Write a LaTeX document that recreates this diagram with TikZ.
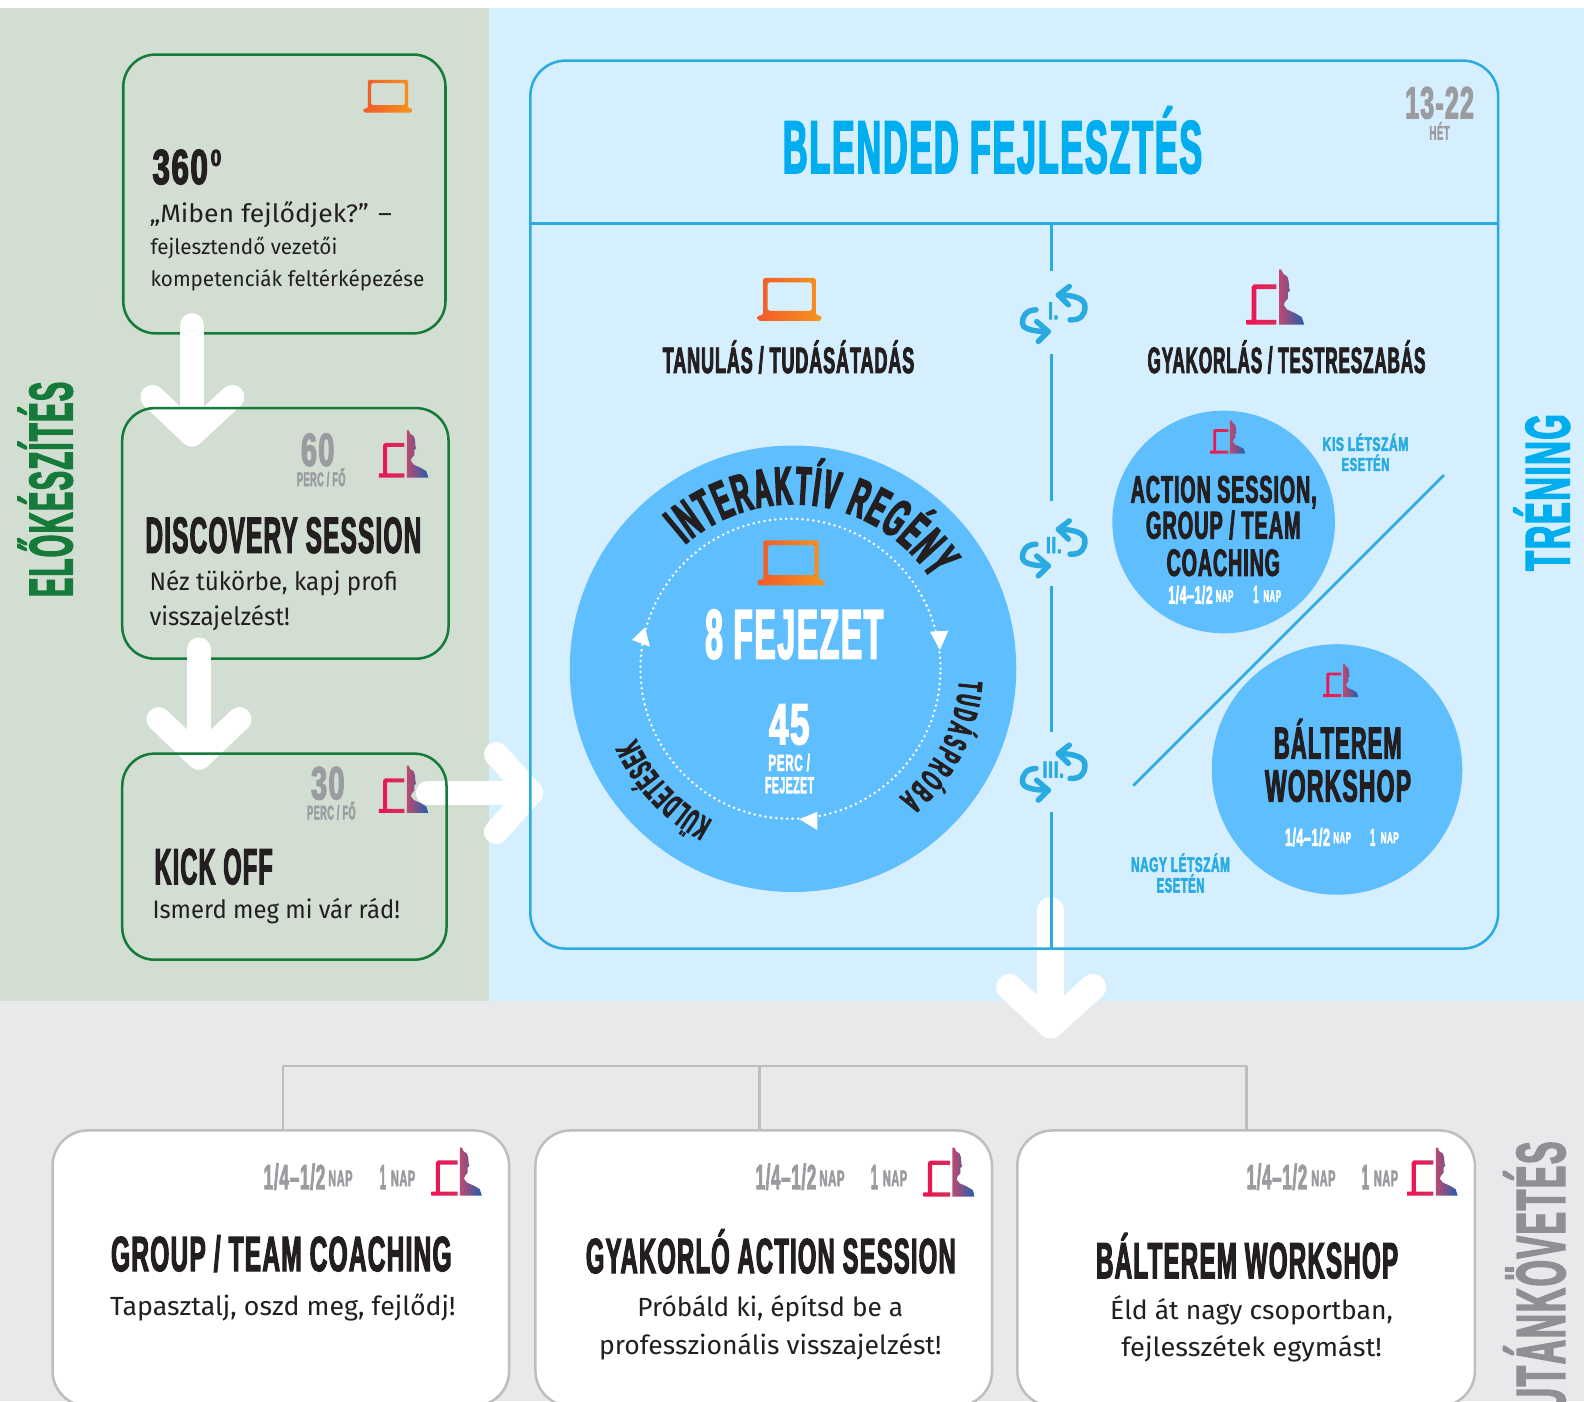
\documentclass[tikz,border=0pt]{standalone}
\usepackage{fontspec}
\usepackage{graphicx}
\usetikzlibrary{decorations.text,calc}
\setmainfont{Fira Sans}
\newfontfamily\condfam[FakeStretch=0.6,LetterSpace=3,BoldFeatures={FakeBold=2.5}]{Liberation Sans}
\newcommand\cond{\condfam\bfseries}
\newfontfamily\arcfam[FakeStretch=0.46,BoldFeatures={FakeBold=3}]{Liberation Sans}
\definecolor{dark}{HTML}{231F20}
\definecolor{greenbg}{HTML}{D1DED1}
\definecolor{bluebg}{HTML}{D6EFFE}
\definecolor{graybg}{HTML}{E8E9EB}
\definecolor{gline}{HTML}{157A3A}
\definecolor{bline}{HTML}{29ABE2}
\definecolor{grayline}{HTML}{BCBEC0}
\definecolor{soft}{HTML}{9A9CA0}
\definecolor{vgray}{HTML}{8E9093}
\definecolor{circ}{HTML}{5FBEFD}
\definecolor{title}{HTML}{00AEEF}
\definecolor{lapA}{HTML}{F15A29}
\definecolor{lapB}{HTML}{F7941E}
\definecolor{climA}{HTML}{EC1450}
\definecolor{climB}{HTML}{D82C5C}
\definecolor{perA}{HTML}{BC4A70}
\definecolor{perB}{HTML}{A64E7E}
\definecolor{perC}{HTML}{1F5FAF}
\newcounter{lbl}
\tikzset{
  txt/.style={inner sep=0pt,outer sep=0pt},
  gbox/.style={draw=gline,line width=2.5pt,rounded corners=32pt,inner sep=0pt,outer sep=0pt},
  wbox/.style={draw=grayline,fill=white,line width=2.5pt,rounded corners=35pt,inner sep=0pt,outer sep=0pt},
  framebox/.style={draw=bline,line width=2.5pt,rounded corners=35pt,inner sep=0pt,outer sep=0pt},
  disc/.style={circle,fill=circ,inner sep=0pt,outer sep=0pt},
  wharrow/.style={draw=white,line cap=round,line join=round,line width=24pt},
  treeline/.style={draw=grayline,line width=2.5pt},
  divider/.style={draw=bline,line width=2.5pt},
  loopline/.style={draw=bline,line width=5.4pt,line cap=round,line join=round},
}
% condensed title: x1 x2 captop baseline colour text
\newcommand\ct[6]{\stepcounter{lbl}\pgfmathsetmacro\wv{#2-#1}\pgfmathsetmacro\hv{(#4-#3)/0.716}\pgfmathsetmacro\yv{#4-0.8}%
  \node[txt,anchor=base west,text=#5] (t\thelbl) at (#1,\yv) {\resizebox{\wv pt}{\height}{\cond\fontsize{\hv}{\hv}\selectfont #6}};}
% vertical title: capleft baseline ybottom ytop colour text
\newcommand\ctv[6]{\stepcounter{lbl}\pgfmathsetmacro\wv{#3-#4}\pgfmathsetmacro\hv{(#2-#1)/0.716}%
  \node[txt,anchor=base west,text=#5,rotate=90] (t\thelbl) at (#2,#3) {\resizebox{\wv pt}{\height}{\cond\fontsize{\hv}{\hv}\selectfont #6}};}
% body text: x1 x2 baseline size text
\newcommand\bt[5]{\stepcounter{lbl}\pgfmathsetmacro\wv{#2-#1}%
  \node[txt,anchor=base west,text=dark] (t\thelbl) at (#1,#3) {\resizebox{\wv pt}{\height}{\fontsize{#4}{#4}\selectfont #5}};}
\newcommand\laptopicon[3]{\pgfmathsetmacro\rc{#3*0.03}%
  \begin{scope}[shift={(#1,#2)},x=#3pt,y=-#3pt]
  \shade[even odd rule,left color=lapA,right color=lapB,rounded corners=\rc pt]
   (0,.675) -- (1,.675) -- (1,.59) -- (.915,.59) -- (.915,0) -- (.085,0) -- (.085,.59) -- (0,.59) -- cycle
   (.155,.07) -- (.85,.07) -- (.85,.52) -- (.155,.52) -- cycle;
  \end{scope}}
\newcommand\climicon[3]{%
  \begin{scope}[shift={(#1,#2)},x=#3pt,y=-#3pt]
  \shade[left color=climA,right color=climB]
   (0,.953) -- (.518,.953) -- (.518,.87) -- (.17,.87) -- (.17,.335) -- (.518,.335) -- (.518,.253) -- (.13,.253) -- (.088,.295) -- (.088,.87) -- (0,.87) -- cycle;
  \shade[left color=perA,middle color=perB,right color=perC]
   (.565,.953) -- (.565,0) -- (.606,0) -- (.635,.07) -- (.706,.118) -- (.729,.188) -- (.741,.324) -- (.753,.365) -- (.718,.394) -- (.718,.5) -- (.665,.559) -- (.647,.618) -- (.706,.694) -- (.841,.753) -- (.959,.824) -- (1,.953) -- cycle;
  \end{scope}}
\newcommand\loopicon[2]{\begin{scope}[shift={(#1,#2)}]
  \draw[loopline] (16.5,6.6) .. controls (27,7) and (31.3,2) .. (31.3,-6.6) .. controls (31.3,-14) and (22,-18) .. (5,-18);
  \draw[loopline] (15.8,-26.4) -- (5,-18) -- (14.9,-8.3);
  \draw[loopline] (-17.2,-3.3) .. controls (-27,-3) and (-30.7,3) .. (-30.7,9.9) .. controls (-30.7,15) and (-22,18.2) .. (-5,18.2);
  \draw[loopline] (-16.5,8.3) -- (-5,18.2) -- (-14.9,28);
  \end{scope}}
\begin{document}
\begin{tikzpicture}[x=1pt,y=-1pt]
\useasboundingbox (0,0) rectangle (1568,1387);
\clip (0,0) rectangle (1568,1387);
\fill[white] (0,0) rectangle (1568,8);
\fill[greenbg] (0,8) rectangle (484,991);
\fill[bluebg] (484,8) rectangle (1568,991);
\fill[graybg] (0,991) rectangle (1568,1387);

% vertical section titles
\ctv{28}{71.5}{591}{378}{gline}{ELŐKÉSZÍTÉS}
\ctv{1509}{1553.5}{565}{410}{title}{TRÉNING}
\ctv{1500}{1549}{1398}{1130}{vgray}{UTÁNKÖVETÉS}

% left column
\node[gbox,minimum width=319pt,minimum height=276pt] (b360) at (281.5,192) {};
\laptopicon{360}{79}{48}
\ct{151}{205.8}{148}{183}{dark}{360}
\ct{208.6}{219}{148.5}{165}{dark}{0}
\bt{148}{388}{220}{25}{„Miben fejlődjek?” –}
\bt{149}{334}{252}{21}{fejlesztendő vezetői}
\bt{149}{420}{284}{21}{kompetenciák feltérképezése}

\coordinate (a1s) at (190,322);
\coordinate (a1t) at (190,430);
\coordinate (a1l) at (151,393);
\coordinate (a1r) at (230,393);
\draw[wharrow] (a1s) -- (a1t);
\draw[wharrow] (a1l) -- (a1t) -- (a1r);

\node[gbox,minimum width=323pt,minimum height=248pt] (bdisc) at (282.5,528) {};
\ct{298}{331}{429}{462}{soft}{60}
\ct{294}{342}{468}{482}{soft}{PERC / FŐ}
\climicon{375}{426}{49}
\ct{144}{417}{512}{548}{dark}{DISCOVERY SESSION}
\bt{148}{394}{585}{25}{Néz tükörbe, kapj profi}
\bt{148}{287}{619}{25}{visszajelzést!}

\coordinate (a2s) at (197,643);
\coordinate (a2t) at (197,750);
\coordinate (a2l) at (157,712);
\coordinate (a2r) at (237,712);
\draw[wharrow] (a2s) -- (a2t);
\draw[wharrow] (a2l) -- (a2t) -- (a2r);

\ct{308}{341}{759}{792}{soft}{30}
\ct{304}{352}{798}{812}{soft}{PERC / FŐ}
\climicon{375}{758}{49}
\ct{153}{270}{840}{876}{dark}{KICK OFF}
\bt{151}{396}{909}{25}{Ismerd meg mi vár rád!}

\coordinate (a3s) at (423.7,784.7);
\coordinate (a3t) at (525.6,784.7);
\coordinate (a3l) at (491,746.5);
\coordinate (a3r) at (491,823.5);
\draw[wharrow] (a3s) -- (a3t);
\draw[wharrow] (a3l) -- (a3t) -- (a3r);
\node[gbox,minimum width=321pt,minimum height=204pt] (bkick) at (281.5,848) {};

% arrow to lower band
\coordinate (a4s) at (1040,901);
\coordinate (a4t) at (1040,1015);
\coordinate (a4l) at (999,977);
\coordinate (a4r) at (1082,977);
\draw[wharrow,line width=26pt] (a4s) -- (a4t);
\draw[wharrow,line width=26pt] (a4l) -- (a4t) -- (a4r);

% main frame
\node[framebox,minimum width=958pt,minimum height=879pt] (frame) at (1004,499.5) {};
\coordinate (hl) at (525,221);
\draw[divider] (hl) -- (hl -| frame.east);
\draw[divider] (1041,221) -- (1041,268);
\draw[divider] (1041,350) -- (1041,496);
\draw[divider] (1041,580) -- (1041,725);
\draw[divider] (1041,804) -- (1041,939);
\ct{775}{1190}{119}{172}{title}{BLENDED FEJLESZTÉS}
\ct{1391}{1459}{86}{118}{soft}{13-22}
\ct{1415}{1435}{125}{139}{soft}{HÉT}
\laptopicon{750}{275}{63}
\ct{656}{905}{344}{370}{dark}{TANULÁS / TUDÁSÁTADÁS}
\climicon{1234}{267}{57}
\ct{1136}{1411}{344}{370}{dark}{GYAKORLÁS / TESTRESZABÁS}

% loops
\loopicon{1042.7}{310}
\ct{1037.7}{1047.6}{299.6}{316.8}{bline}{I.}
\loopicon{1042.7}{542}
\ct{1035.4}{1051}{531.9}{548.3}{bline}{II.}
\loopicon{1042.7}{764}
\ct{1032.1}{1053.3}{754}{770.4}{bline}{III.}

% big circle
\node[disc,minimum size=442pt] (bigc) at (785,662) {};
\node[circle,draw=white,inner sep=0pt,outer sep=0pt,minimum size=297pt,line width=2.8pt,line cap=round,dash pattern=on 0pt off 5.4pt] (dots) at (782.5,662) {};
\fill[white] (930.5,643.5) -- (920.6,625.3) -- (938.8,624.3) -- cycle;
\fill[white] (791.3,811) -- (809.1,803.5) -- (809.1,821.6) -- cycle;
\fill[white] (638.5,621) -- (625.6,633.5) -- (643.4,640.2) -- cycle;
\begin{scope}[shift={(bigc.center)},x=1pt,y=1pt]
\path[decorate,decoration={text along path,text align={fit to path},
  text={|\arcfam\bfseries\fontsize{53}{53}\selectfont\color{dark}|INTERAKTÍV REGÉNY}}]
  (131:163) arc (131:33:163);
\path[decorate,decoration={text along path,text align={fit to path},
  text={|\arcfam\bfseries\fontsize{33}{33}\selectfont\color{dark}|TUDÁSPRÓBA}}]
  (-4:165) arc (-4:-50.5:165);
\path[decorate,decoration={text along path,text align={fit to path},
  text={|\arcfam\bfseries\fontsize{33}{33}\selectfont\color{dark}|KÜLDETÉSEK}}]
  (-118:170) arc (-118:-156:170);
\end{scope}
\laptopicon{750}{535}{66}
\ct{698}{874.4}{603}{652.7}{white}{8 FEJEZET}
\ct{761.3}{801.2}{696.3}{737.5}{white}{45}
\ct{760.6}{801.8}{747.4}{763.9}{white}{PERC /}
\ct{757.3}{805.8}{769.5}{786}{white}{FEJEZET}

% small circles
\node[disc,minimum size=220.4pt] (actc) at (1211.3,516.7) {};
\climicon{1198}{416}{34.6}
\ct{1119.3}{1303.4}{471.2}{498.3}{dark}{ACTION SESSION,}
\ct{1134.4}{1287.5}{506.5}{533.9}{dark}{GROUP / TEAM}
\ct{1154.9}{1267}{543.8}{570.8}{dark}{COACHING}
\ct{1156.5}{1200.4}{580.7}{598.2}{white}{1/4–1/2}
\ct{1203.4}{1220.9}{584.7}{596.6}{white}{NAP}
\ct{1240.7}{1245.6}{580}{597.5}{white}{1}
\ct{1250.6}{1268.1}{584.7}{596.6}{white}{NAP}
\ct{1309.3}{1394.1}{433.3}{447.1}{bline}{KIS LÉTSZÁM}
\ct{1328.1}{1375.3}{453.7}{466.9}{bline}{ESETÉN}
\coordinate (diagA) at (1429.4,470.2);
\coordinate (diagB) at (1121.9,777.7);
\draw[divider] (diagA) -- (diagB);
\node[disc,minimum size=248pt] (balc) at (1323.5,761.7) {};
\climicon{1310}{657}{34.6}
\ct{1261.1}{1387.5}{720}{751.7}{dark}{BÁLTEREM}
\ct{1252.2}{1396.8}{762.2}{794.2}{dark}{WORKSHOP}
\ct{1272}{1316.6}{820.6}{838.1}{white}{1/4–1/2}
\ct{1319.8}{1337.4}{824.3}{835.5}{white}{NAP}
\ct{1356.2}{1361.4}{820.6}{838.1}{white}{1}
\ct{1366.7}{1384.6}{824.3}{835.5}{white}{NAP}
\ct{1119.6}{1217.6}{849}{863.9}{bline}{NAGY LÉTSZÁM}
\ct{1145}{1192.2}{869.5}{884.3}{bline}{ESETÉN}

% lower band
\node[wbox,minimum width=452pt,minimum height=273pt] (g1) at (278,1255.5) {};
\node[wbox,minimum width=452pt,minimum height=273pt] (g2) at (756,1255.5) {};
\node[wbox,minimum width=453pt,minimum height=273pt] (g3) at (1233.5,1255.5) {};
\coordinate (tree1) at (280,1055);
\coordinate (tree2) at (752,1055);
\coordinate (tree3) at (1234,1055);
\draw[treeline] (tree1) -- (tree3);
\draw[treeline] (tree1) -- (tree1 |- g1.north);
\draw[treeline] (tree2) -- (tree2 |- g2.north);
\draw[treeline] (tree3) -- (tree3 |- g3.north);

\ct{261}{322}{1153}{1178}{soft}{1/4–1/2}
\ct{325}{349}{1159}{1175}{soft}{NAP}
\ct{376}{382}{1153}{1178}{soft}{1}
\ct{387}{411}{1159}{1175}{soft}{NAP}
\climicon{427}{1136}{50}
\ct{110}{447}{1224}{1259}{dark}{GROUP / TEAM COACHING}
\bt{109}{451}{1302}{26}{Tapasztalj, oszd meg, fejlődj!}

\ct{748}{808}{1153}{1178}{soft}{1/4–1/2}
\ct{811}{836}{1159}{1175}{soft}{NAP}
\ct{862}{869}{1153}{1178}{soft}{1}
\ct{874}{898}{1159}{1175}{soft}{NAP}
\climicon{914}{1136}{51}
\ct{580}{946}{1226}{1261}{dark}{GYAKORLÓ ACTION SESSION}
\bt{631}{894}{1303}{26}{Próbáld ki, építsd be a}
\bt{593}{932}{1341}{26}{professzionális visszajelzést!}

\ct{1234}{1294}{1153}{1178}{soft}{1/4–1/2}
\ct{1298}{1322}{1159}{1175}{soft}{NAP}
\ct{1348}{1355}{1153}{1178}{soft}{1}
\ct{1360}{1384}{1159}{1175}{soft}{NAP}
\climicon{1393}{1136}{50}
\ct{1085}{1384}{1230}{1266}{dark}{BÁLTEREM WORKSHOP}
\bt{1099}{1379}{1306}{26}{Éld át nagy csoportban,}
\bt{1110}{1368}{1343}{26}{fejlesszétek egymást!}
\end{tikzpicture}
\end{document}
